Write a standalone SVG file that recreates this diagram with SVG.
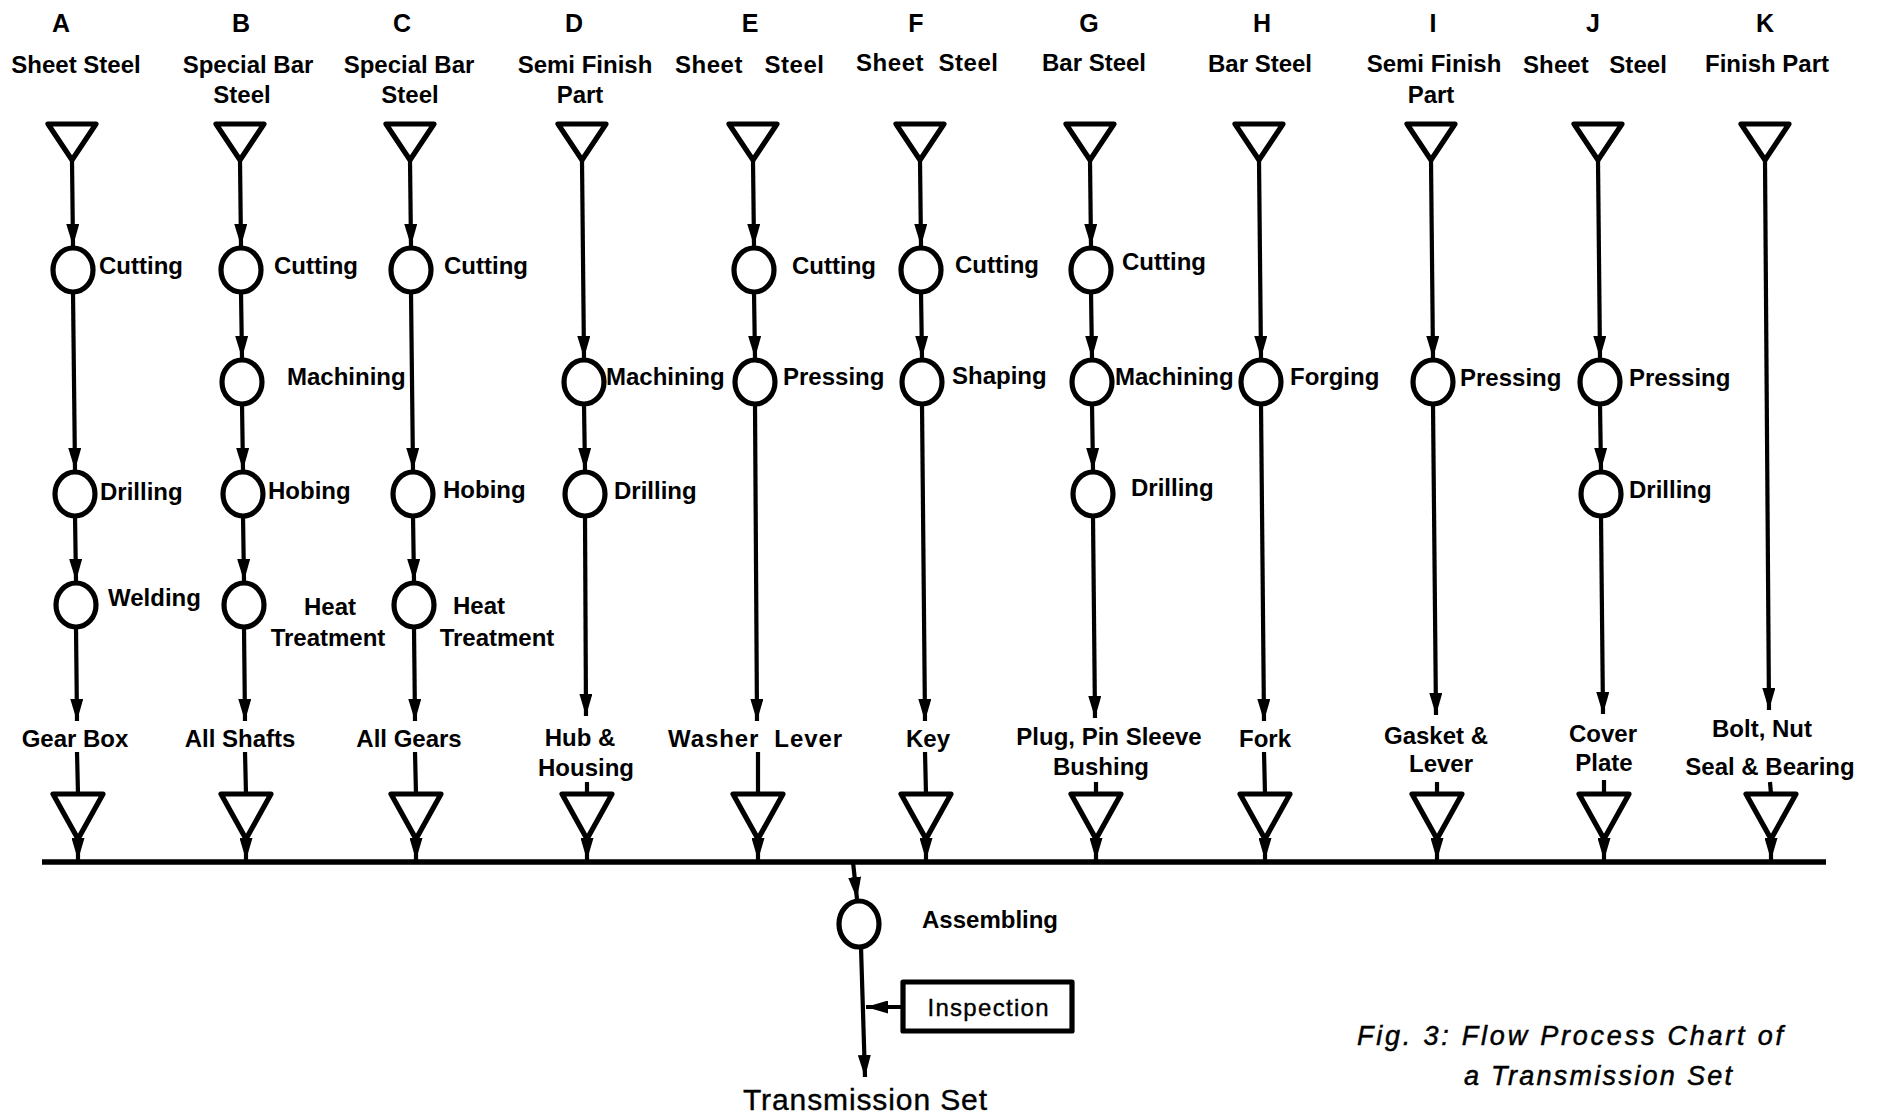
<svg xmlns="http://www.w3.org/2000/svg" width="1878" height="1115" viewBox="0 0 1878 1115">
<defs>
<style>
text{font-family:"Liberation Sans",Arial,sans-serif;fill:#000}
.b{font-weight:bold;font-size:24px}
.ltr{font-weight:bold;font-size:25px;text-anchor:middle}
.m{text-anchor:middle}
.c{stroke:#000;stroke-width:4.2;fill:none}
.n{fill:#fff;stroke:#000;stroke-width:5.2;stroke-linejoin:round}
.bar{stroke:#000;stroke-width:5.5;fill:none}
.t{font-size:30px;text-anchor:middle;stroke:#000;stroke-width:0.4}
.cap{font-style:italic;font-size:27px;stroke:#000;stroke-width:0.5}
.ins{font-size:24px;text-anchor:middle;stroke:#000;stroke-width:0.4}
</style>
<marker id="ah" markerUnits="userSpaceOnUse" markerWidth="22" markerHeight="13" refX="22" refY="6.5" orient="auto">
<path d="M0,0 L22,6.5 L0,13 z" fill="#000"/>
</marker>
</defs>
<rect width="1878" height="1115" fill="#fff"/>

<g id="connectors">
<line class="bar" x1="42" y1="862" x2="1826" y2="862"/>
<g marker-end="url(#ah)" class="c">
<!-- A -->
<line x1="72" y1="160" x2="73" y2="246"/>
<line x1="73" y1="292" x2="75" y2="470"/>
<line x1="75" y1="516" x2="76" y2="581"/>
<line x1="76" y1="627" x2="77" y2="721"/>
<line x1="78" y1="838" x2="78" y2="860"/>
<!-- B -->
<line x1="240" y1="160" x2="241" y2="246"/>
<line x1="241" y1="292" x2="242" y2="358"/>
<line x1="242" y1="404" x2="243" y2="470"/>
<line x1="243" y1="516" x2="244" y2="581"/>
<line x1="244" y1="627" x2="245" y2="721"/>
<line x1="246" y1="838" x2="246" y2="860"/>
<!-- C -->
<line x1="410" y1="160" x2="411" y2="246"/>
<line x1="411" y1="292" x2="413" y2="470"/>
<line x1="413" y1="516" x2="414" y2="581"/>
<line x1="414" y1="627" x2="415" y2="721"/>
<line x1="416" y1="838" x2="416" y2="860"/>
<!-- D -->
<line x1="582" y1="160" x2="584" y2="358"/>
<line x1="584" y1="404" x2="585" y2="470"/>
<line x1="585" y1="516" x2="586" y2="716"/>
<line x1="587" y1="838" x2="587" y2="860"/>
<!-- E -->
<line x1="753" y1="160" x2="754" y2="246"/>
<line x1="754" y1="292" x2="755" y2="358"/>
<line x1="755" y1="404" x2="757" y2="721"/>
<line x1="758" y1="838" x2="758" y2="860"/>
<!-- F -->
<line x1="920" y1="160" x2="921" y2="246"/>
<line x1="921" y1="292" x2="922" y2="358"/>
<line x1="922" y1="404" x2="925" y2="721"/>
<line x1="926" y1="838" x2="926" y2="860"/>
<!-- G -->
<line x1="1090" y1="160" x2="1091" y2="246"/>
<line x1="1091" y1="292" x2="1092" y2="358"/>
<line x1="1092" y1="404" x2="1093" y2="470"/>
<line x1="1093" y1="516" x2="1095" y2="718"/>
<line x1="1096" y1="838" x2="1096" y2="860"/>
<!-- H -->
<line x1="1259" y1="160" x2="1261" y2="358"/>
<line x1="1261" y1="404" x2="1264" y2="721"/>
<line x1="1265" y1="838" x2="1265" y2="860"/>
<!-- I -->
<line x1="1431" y1="160" x2="1433" y2="358"/>
<line x1="1433" y1="404" x2="1436" y2="715"/>
<line x1="1437" y1="838" x2="1437" y2="860"/>
<!-- J -->
<line x1="1598" y1="160" x2="1600" y2="358"/>
<line x1="1600" y1="404" x2="1601" y2="470"/>
<line x1="1601" y1="516" x2="1603" y2="714"/>
<line x1="1604" y1="838" x2="1604" y2="860"/>
<!-- K -->
<line x1="1765" y1="160" x2="1769" y2="710"/>
<line x1="1771" y1="838" x2="1771" y2="860"/>
<!-- assembly -->
<line x1="853" y1="862" x2="857" y2="899"/>
<line x1="861" y1="947" x2="865" y2="1077"/>
<line x1="903" y1="1007" x2="866" y2="1007"/>
</g>
<g class="c">
<line x1="77" y1="752" x2="78" y2="794"/>
<line x1="245" y1="752" x2="246" y2="794"/>
<line x1="415" y1="752" x2="416" y2="794"/>
<line x1="587" y1="782" x2="587" y2="794"/>
<line x1="758" y1="752" x2="758" y2="794"/>
<line x1="925" y1="752" x2="926" y2="794"/>
<line x1="1096" y1="782" x2="1096" y2="794"/>
<line x1="1264" y1="752" x2="1265" y2="794"/>
<line x1="1437" y1="782" x2="1437" y2="794"/>
<line x1="1604" y1="780" x2="1604" y2="794"/>
<line x1="1770" y1="782" x2="1771" y2="794"/>
</g>
</g>

<g id="col-A">
<text class="ltr" x="61" y="32">A</text>
<text class="b m" x="76" y="73">Sheet Steel</text>
<polygon class="n" points="48,124 96,124 72,160"/>
<ellipse class="n" cx="73" cy="270" rx="20" ry="22"/><text class="b" x="99" y="274">Cutting</text>
<ellipse class="n" cx="75" cy="494" rx="20" ry="22"/><text class="b" x="100" y="500">Drilling</text>
<ellipse class="n" cx="76" cy="605" rx="20" ry="22"/><text class="b" x="108" y="606">Welding</text>
<text class="b m" x="75" y="747">Gear Box</text>
<polygon class="n" points="53,794 103,794 78,839"/>
</g>

<g id="col-B">
<text class="ltr" x="241" y="32">B</text>
<text class="b m" x="248" y="73">Special Bar</text>
<text class="b m" x="242" y="103">Steel</text>
<polygon class="n" points="216,124 264,124 240,160"/>
<ellipse class="n" cx="241" cy="270" rx="20" ry="22"/><text class="b" x="274" y="274">Cutting</text>
<ellipse class="n" cx="242" cy="382" rx="20" ry="22"/><text class="b" x="287" y="385">Machining</text>
<ellipse class="n" cx="243" cy="494" rx="20" ry="22"/><text class="b" x="268" y="499">Hobing</text>
<ellipse class="n" cx="244" cy="605" rx="20" ry="22"/>
<text class="b m" x="330" y="615">Heat</text>
<text class="b m" x="328" y="646">Treatment</text>
<text class="b m" x="240" y="747">All Shafts</text>
<polygon class="n" points="221,794 271,794 246,839"/>
</g>

<g id="col-C">
<text class="ltr" x="402" y="32">C</text>
<text class="b m" x="409" y="73">Special Bar</text>
<text class="b m" x="410" y="103">Steel</text>
<polygon class="n" points="386,124 434,124 410,160"/>
<ellipse class="n" cx="411" cy="270" rx="20" ry="22"/><text class="b" x="444" y="274">Cutting</text>
<ellipse class="n" cx="413" cy="494" rx="20" ry="22"/><text class="b" x="443" y="498">Hobing</text>
<ellipse class="n" cx="414" cy="605" rx="20" ry="22"/>
<text class="b m" x="479" y="614">Heat</text>
<text class="b m" x="497" y="646">Treatment</text>
<text class="b m" x="409" y="747">All Gears</text>
<polygon class="n" points="391,794 441,794 416,839"/>
</g>

<g id="col-D">
<text class="ltr" x="574" y="32">D</text>
<text class="b m" x="585" y="73">Semi Finish</text>
<text class="b m" x="580" y="103">Part</text>
<polygon class="n" points="558,124 606,124 582,160"/>
<ellipse class="n" cx="584" cy="382" rx="20" ry="22"/><text class="b" x="606" y="385">Machining</text>
<ellipse class="n" cx="585" cy="494" rx="20" ry="22"/><text class="b" x="614" y="499">Drilling</text>
<text class="b m" x="580" y="746">Hub &amp;</text>
<text class="b m" x="586" y="776">Housing</text>
<polygon class="n" points="562,794 612,794 587,839"/>
</g>

<g id="col-E">
<text class="ltr" x="750" y="32">E</text>
<text class="b" x="675" y="73" xml:space="preserve" textLength="149">Sheet   Steel</text>
<polygon class="n" points="729,124 777,124 753,160"/>
<ellipse class="n" cx="754" cy="270" rx="20" ry="22"/><text class="b" x="792" y="274">Cutting</text>
<ellipse class="n" cx="755" cy="382" rx="20" ry="22"/><text class="b" x="783" y="385">Pressing</text>
<text class="b" x="668" y="747" xml:space="preserve" textLength="174">Washer  Lever</text>
<polygon class="n" points="733,794 783,794 758,839"/>
</g>

<g id="col-F">
<text class="ltr" x="916" y="32">F</text>
<text class="b" x="856" y="71" xml:space="preserve" textLength="142">Sheet  Steel</text>
<polygon class="n" points="896,124 944,124 920,160"/>
<ellipse class="n" cx="921" cy="270" rx="20" ry="22"/><text class="b" x="955" y="273">Cutting</text>
<ellipse class="n" cx="922" cy="382" rx="20" ry="22"/><text class="b" x="952" y="384">Shaping</text>
<text class="b m" x="928" y="747">Key</text>
<polygon class="n" points="901,794 951,794 926,839"/>
</g>

<g id="col-G">
<text class="ltr" x="1089" y="32">G</text>
<text class="b m" x="1094" y="71">Bar Steel</text>
<polygon class="n" points="1066,124 1114,124 1090,160"/>
<ellipse class="n" cx="1091" cy="270" rx="20" ry="22"/><text class="b" x="1122" y="270">Cutting</text>
<ellipse class="n" cx="1092" cy="382" rx="20" ry="22"/><text class="b" x="1115" y="385">Machining</text>
<ellipse class="n" cx="1093" cy="494" rx="20" ry="22"/><text class="b" x="1131" y="496">Drilling</text>
<text class="b m" x="1109" y="745">Plug, Pin Sleeve</text>
<text class="b m" x="1101" y="775">Bushing</text>
<polygon class="n" points="1071,794 1121,794 1096,839"/>
</g>

<g id="col-H">
<text class="ltr" x="1262" y="32">H</text>
<text class="b m" x="1260" y="72">Bar Steel</text>
<polygon class="n" points="1235,124 1283,124 1259,160"/>
<ellipse class="n" cx="1261" cy="382" rx="20" ry="22"/><text class="b" x="1290" y="385">Forging</text>
<text class="b m" x="1265" y="747">Fork</text>
<polygon class="n" points="1240,794 1290,794 1265,839"/>
</g>

<g id="col-I">
<text class="ltr" x="1433" y="32">I</text>
<text class="b m" x="1434" y="72">Semi Finish</text>
<text class="b m" x="1431" y="103">Part</text>
<polygon class="n" points="1407,124 1455,124 1431,160"/>
<ellipse class="n" cx="1433" cy="382" rx="20" ry="22"/><text class="b" x="1460" y="386">Pressing</text>
<text class="b m" x="1436" y="744">Gasket &amp;</text>
<text class="b m" x="1441" y="772">Lever</text>
<polygon class="n" points="1412,794 1462,794 1437,839"/>
</g>

<g id="col-J">
<text class="ltr" x="1593" y="32">J</text>
<text class="b" x="1523" y="73" xml:space="preserve" textLength="144">Sheet   Steel</text>
<polygon class="n" points="1574,124 1622,124 1598,160"/>
<ellipse class="n" cx="1600" cy="382" rx="20" ry="22"/><text class="b" x="1629" y="386">Pressing</text>
<ellipse class="n" cx="1601" cy="494" rx="20" ry="22"/><text class="b" x="1629" y="498">Drilling</text>
<text class="b m" x="1603" y="742">Cover</text>
<text class="b m" x="1604" y="771">Plate</text>
<polygon class="n" points="1579,794 1629,794 1604,839"/>
</g>

<g id="col-K">
<text class="ltr" x="1765" y="32">K</text>
<text class="b m" x="1767" y="72">Finish Part</text>
<polygon class="n" points="1741,124 1789,124 1765,160"/>
<text class="b m" x="1762" y="737">Bolt, Nut</text>
<text class="b m" x="1770" y="775">Seal &amp; Bearing</text>
<polygon class="n" points="1746,794 1796,794 1771,839"/>
</g>

<g id="assembling">
<ellipse class="n" cx="859" cy="924" rx="20" ry="23"/>
<text class="b" x="922" y="928">Assembling</text>
</g>

<g id="inspection">
<rect class="n" x="903" y="982" width="169" height="49"/>
<text class="ins" x="988" y="1016" textLength="121">Inspection</text>
</g>

<g id="output">
<text class="t" x="865" y="1110" textLength="244">Transmission Set</text>
</g>

<g id="caption">
<text class="cap" x="1357" y="1045" textLength="426">Fig. 3: Flow Process Chart of</text>
<text class="cap" x="1464" y="1085" textLength="268">a Transmission Set</text>
</g>
</svg>
